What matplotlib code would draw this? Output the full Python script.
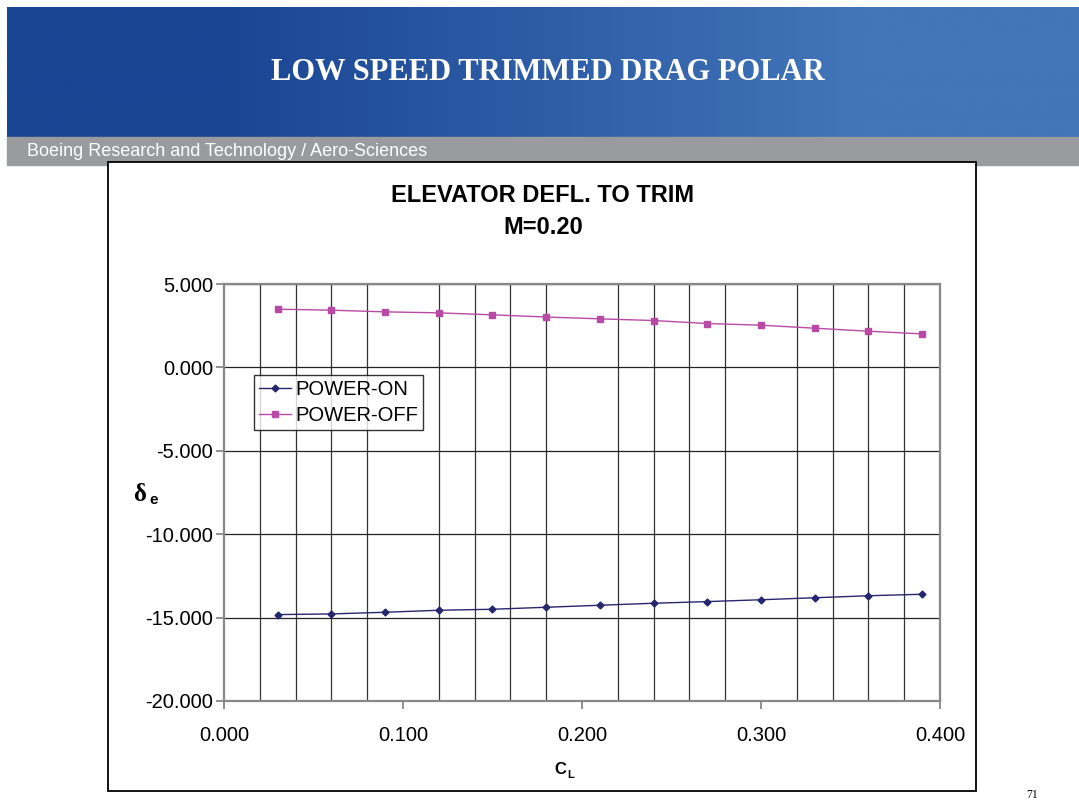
import numpy as np
import matplotlib
matplotlib.use('Agg')
import matplotlib.pyplot as plt
from matplotlib.patches import Rectangle

# lift coefficient points
cl = [0.03, 0.06, 0.09, 0.12, 0.15, 0.18, 0.21, 0.24, 0.27, 0.30, 0.33, 0.36, 0.39]
# elevator deflection to trim (deg)
power_on = [-14.82, -14.78, -14.68, -14.56, -14.50, -14.38, -14.26, -14.14, -14.04, -13.93, -13.81, -13.69, -13.60]
power_off = [3.49, 3.43, 3.33, 3.27, 3.15, 3.02, 2.91, 2.81, 2.63, 2.53, 2.35, 2.17, 2.01]

xticks = [0.0, 0.1, 0.2, 0.3, 0.4]
yticks = [5, 0, -5, -10, -15, -20]

W, H = 1079, 800
fig = plt.figure(figsize=(W / 100, H / 100), dpi=100)

def fx(px):
    return px / W

def fy(py):
    return 1 - py / H

# blue header with gradient
hdr = fig.add_axes([fx(7), fy(137), fx(W - 7), 130 / H])
grad = np.linspace(0, 1, 512)
left_c = np.array([0x1a, 0x45, 0x93]) / 255
right_c = np.array([0x42, 0x75, 0xb9]) / 255
t = np.clip((grad - 0.2) / 0.6, 0, 1)
img = left_c[None, :] * (1 - t[:, None]) + right_c[None, :] * t[:, None]
hdr.imshow(img[None, :, :], aspect='auto', extent=[0, 1, 0, 1])
hdr.set_axis_off()
fig.text(fx(548), fy(72), 'LOW SPEED TRIMMED DRAG POLAR', color='white',
         family='Liberation Serif', weight='bold', fontsize=22,
         ha='center', va='center')

# gray strip
fig.patches.append(Rectangle((fx(7), fy(165)), fx(W - 7), 28 / H,
                             transform=fig.transFigure, color='#999b9e', zorder=0))
fig.text(fx(27), fy(151), 'Boeing Research and Technology / Aero-Sciences',
         color='white', family='Liberation Sans', fontsize=13,
         ha='left', va='center', zorder=3)

# chart box
fig.patches.append(Rectangle((fx(108), fy(791)), fx(976 - 108), (791 - 162) / H,
                             transform=fig.transFigure, facecolor='white',
                             edgecolor='black', lw=1.3, zorder=1))

ax = fig.add_axes([fx(224), fy(701), fx(940 - 224), (701 - 284) / H])
ax.set_zorder(2)
ax.plot(cl, power_on, color='#26266e', marker='D', markersize=3.5, lw=1.0, label='POWER-ON')
ax.plot(cl, power_off, color='#b84aa6', marker='s', markersize=4, lw=1.0, label='POWER-OFF')

ax.set_xlim(0, 0.4)
ax.set_ylim(-20, 5)
ax.set_xticks(xticks)
ax.set_xticklabels(['%.3f' % v for v in xticks])
ax.set_yticks(yticks)
ax.set_yticklabels(['%.3f' % v for v in yticks])
ax.set_xticks(np.arange(0, 0.401, 0.02), minor=True)
ax.grid(True, which='major', axis='y', color='#222222', lw=0.9)
ax.grid(True, which='minor', axis='x', color='#333333', lw=0.9)
ax.tick_params(axis='x', which='minor', length=0)
ax.tick_params(axis='both', which='major', length=6, color='#888888', width=1.3,
               labelsize=14.5, labelfontfamily='Liberation Sans')
ax.tick_params(axis='x', pad=12)
ax.tick_params(axis='y', pad=2)
for s in ax.spines.values():
    s.set_color('#888888')
    s.set_linewidth(1.6)

leg = ax.legend(loc='upper left', bbox_to_anchor=((254 - 224) / (940 - 224), (701 - 375) / (701 - 284)),
                prop={'family': 'Liberation Sans', 'size': 14.5}, frameon=True, fancybox=False,
                borderpad=0.25, labelspacing=0.35, handlelength=1.6, handletextpad=0.2,
                borderaxespad=0)
leg.get_frame().set_edgecolor('black')
leg.get_frame().set_linewidth(1.0)

fig.text(fx(543), fy(196), 'ELEVATOR DEFL. TO TRIM', family='Liberation Sans',
         weight='bold', fontsize=17, ha='center', va='center', zorder=3)
fig.text(fx(543), fy(228), 'M=0.20', family='Liberation Sans',
         weight='bold', fontsize=17, ha='center', va='center', zorder=3)

# axis labels
fig.text(fx(133), fy(494), 'δ', family='Liberation Serif', weight='bold', fontsize=18,
         ha='left', va='center', zorder=3)
fig.text(fx(149), fy(500), 'e', family='Liberation Sans', weight='bold', fontsize=11,
         ha='left', va='center', zorder=3)
fig.text(fx(566), fy(769), 'C', family='Liberation Sans', weight='bold', fontsize=12,
         ha='right', va='center', zorder=3)
fig.text(fx(567), fy(775), 'L', family='Liberation Sans', weight='bold', fontsize=8,
         ha='left', va='center', zorder=3)

fig.text(fx(1032), fy(795), '71', family='Liberation Serif', fontsize=8.5,
         ha='center', va='center')

fig.savefig('out.png', dpi=100)
